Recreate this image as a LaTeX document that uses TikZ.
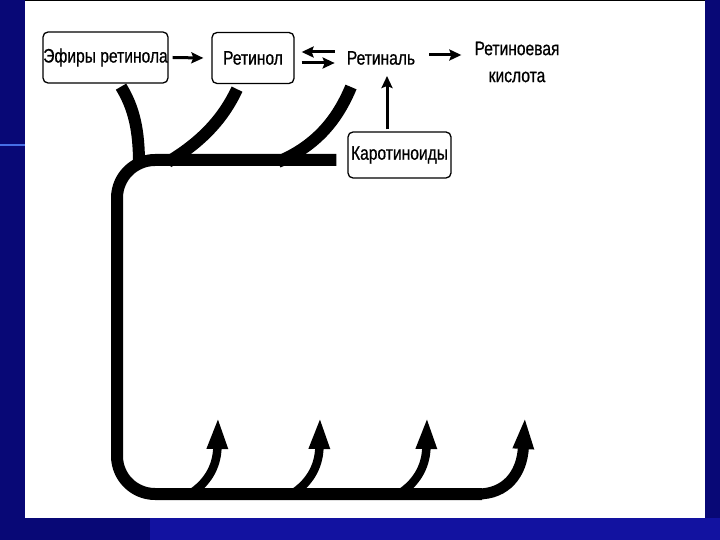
\documentclass[tikz,border=0pt]{standalone}
\usepackage{fontspec}
\setmainfont[FakeStretch=0.8,FakeBold=0.7]{Liberation Sans}
\usetikzlibrary{arrows.meta,calc}
\definecolor{navy}{RGB}{8,8,118}
\definecolor{navylight}{RGB}{18,18,160}
\definecolor{stripe}{RGB}{70,110,230}
\begin{document}
\begin{tikzpicture}[x=1pt,y=-1pt,
  box/.style={draw=black,line width=1.3pt,rounded corners=5pt,inner sep=0pt,
    font=\fontsize{19.5}{22}\selectfont},
  lbl/.style={inner sep=0pt,font=\fontsize{19.5}{22}\selectfont},
  thinarrow/.style={line width=3pt,-{Stealth[length=12pt,width=11pt,inset=2pt]}},
  fatline/.style={line width=12pt,line cap=butt},
  uparrow/.style={line width=8.5pt,-{Triangle[length=32pt,width=19pt]}}]
% background and slide
\useasboundingbox (0,0) rectangle (720,540);
\fill[navy] (0,0) rectangle (720,540);
\fill[navylight] (150,518) rectangle (720,540);
\fill[stripe] (0,144) rectangle (25,146.5);
\fill[white] (25,0) rectangle (705,518);
\draw[black,line width=1.2pt] (25,0.6) -- (705,0.6);
% nodes
\node[box,minimum width=125pt,minimum height=51pt] (eph) at (105.5,57.5) {Эфиры ретинола};
\node[box,minimum width=82pt,minimum height=51pt] (ret) at (253,58) {Ретинол};
\node[lbl] (retinal) at (381,58) {Ретиналь};
\node[lbl,align=center,font=\fontsize{19.5}{27}\selectfont] (acid) at (517,62) {Ретиноевая\\кислота};
\node[box,minimum width=103pt,minimum height=46pt] (car) at (399.5,155) {Каротиноиды};
% thin arrows
\draw[thinarrow] ([xshift=4pt]eph.east) -- ([xshift=-8pt]ret.west);
\draw[thinarrow] ([shift={(-12,-6)}]retinal.west) -- ([shift={(7,-6)}]ret.east);
\draw[thinarrow] ([shift={(7,5)}]ret.east) -- ([shift={(-12,5)}]retinal.west);
\draw[thinarrow] ([shift={(14,-3)}]retinal.east) -- ([shift={(-13,-7)}]acid.west);
\draw[thinarrow,shorten >=11pt,shorten <=2pt] ([xshift=-12.5pt]car.north) -- ([xshift=-12.5pt]car.north |- retinal.south);
% thick routes
\coordinate (j) at (139,160);
\coordinate (barend) at ($(car.west |- j)+(-11,0)$);
\coordinate (c1) at (117,160);
\coordinate (c2) at (117,494);
\coordinate (bend) at (482,494);
\draw[fatline,rounded corners=38pt] (barend) -- (c1) -- (c2) -- (bend);
\draw[fatline] ([xshift=15.5pt,yshift=-3pt]eph.south) .. controls (134,108) and (139,130) .. ($(j)+(0,4)$);
\draw[fatline] ([xshift=-16pt,yshift=-5pt]ret.south) .. controls (225,115) and (205,140) .. (168,162);
\draw[fatline] ([xshift=-30pt,yshift=-22pt]retinal.south) .. controls (338,118) and (318,145) .. (278,162);
% upward arrows
\coordinate (t1) at (218,417);
\coordinate (t2) at (320,417);
\coordinate (t3) at (427,417);
\coordinate (t4) at (525,417);
\draw[uparrow] (190,494) .. controls (206,484) and (217,468) .. (t1);
\draw[uparrow] (292,494) .. controls (308,484) and (319,468) .. (t2);
\draw[uparrow] (399,494) .. controls (415,484) and (426,468) .. (t3);
\draw[uparrow,line width=11pt] (478,494) .. controls (506,494) and (522,474) .. (t4);
\end{tikzpicture}
\end{document}
